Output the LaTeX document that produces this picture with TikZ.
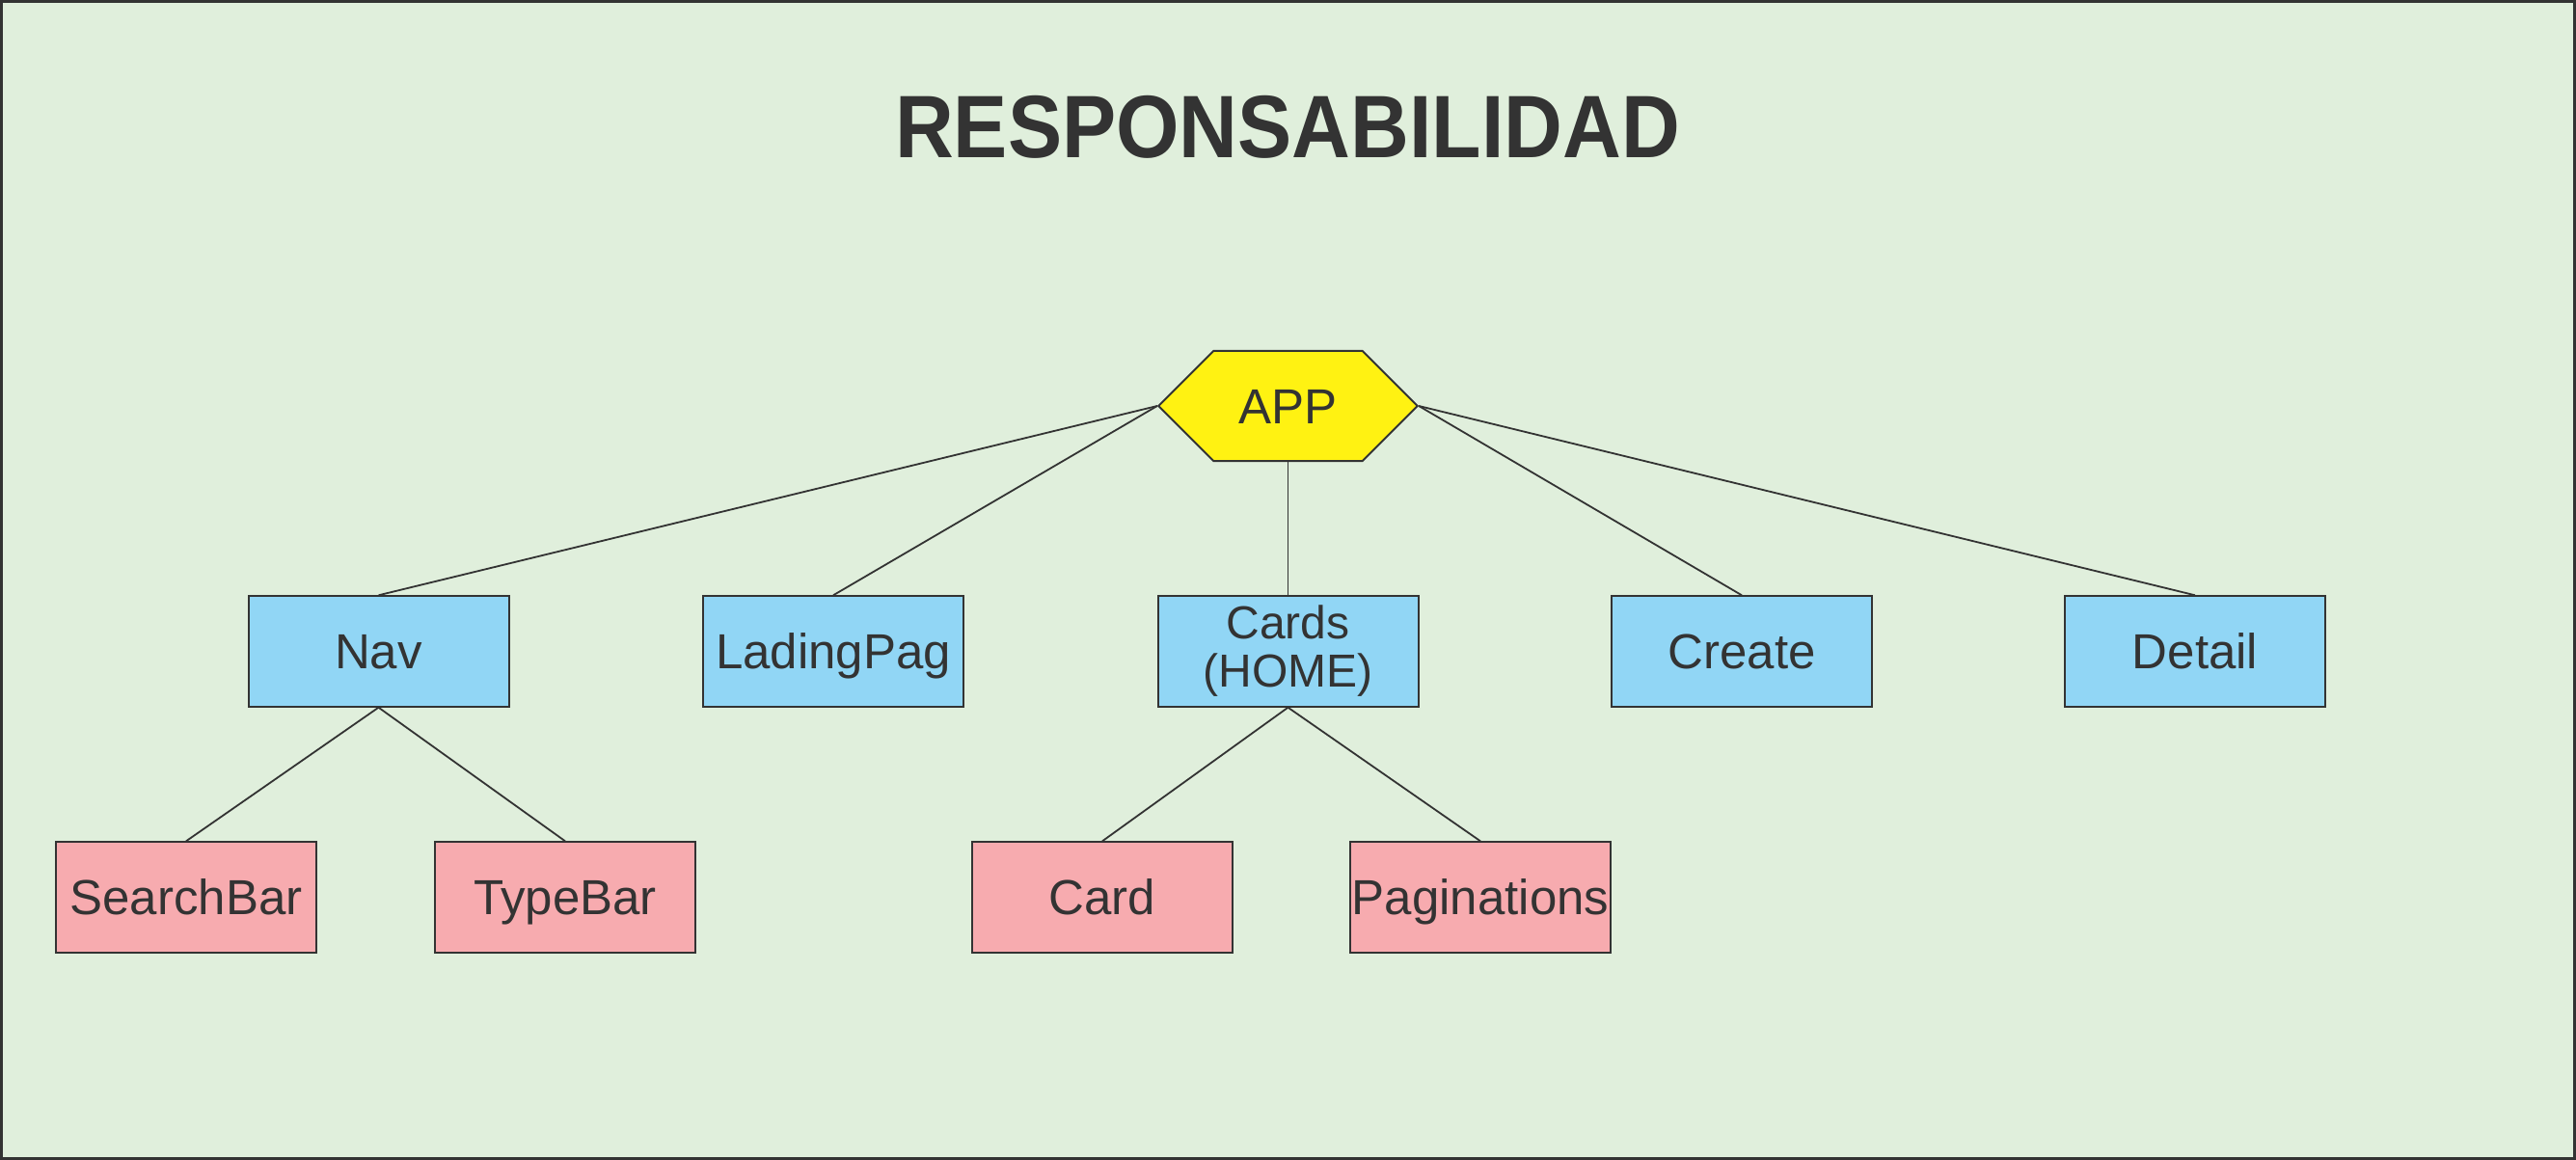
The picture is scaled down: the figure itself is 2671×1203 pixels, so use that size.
\documentclass[tikz,border=0pt]{standalone}
\usepackage{fontspec}
\setmainfont{Liberation Sans}
\newfontfamily\titlefont[FakeStretch=0.915]{Liberation Sans}
\usetikzlibrary{shapes.symbols}
\definecolor{bgc}{RGB}{224,239,220}
\definecolor{inkc}{RGB}{51,51,51}
\definecolor{bluec}{RGB}{145,214,245}
\definecolor{pinkc}{RGB}{247,171,175}
\definecolor{yelc}{RGB}{255,242,18}
\tikzset{
  box/.style={draw=inkc, line width=1pt, minimum width=135pt, minimum height=57.2pt, inner sep=0pt, text=inkc, font=\fontsize{25.5}{30}\selectfont, text height=18.3pt, text depth=0pt},
  bluebox/.style={box, fill=bluec},
  pinkbox/.style={box, fill=pinkc},
  link/.style={draw=inkc, line width=0.9pt},
}
\begin{document}
\begin{tikzpicture}[x=0.5pt,y=-0.5pt]
\useasboundingbox (0,0) rectangle (2671,1203);
\draw[fill=bgc, draw=inkc, line width=1.5pt] (1.5,1.5) rectangle (2669.5,1201.5);
\node[text=inkc, font=\titlefont\fontsize{46}{55}\selectfont\bfseries, inner sep=0pt, text height=33pt, text depth=0pt] (title) at (1335,130.5) {RESPONSABILIDAD};
\node[signal, signal to=east and west, signal pointer angle=90, draw=inkc, line width=1pt, fill=yelc, minimum width=134.2pt, minimum height=57pt, inner sep=0pt, text=inkc, font=\fontsize{25.5}{30}\selectfont, text height=18.3pt, text depth=0pt] (app) at (1335.5,421) {APP};
\node[bluebox] (nav) at (392.5,675.5) {Nav};
\node[bluebox] (lad) at (864,675.5) {LadingPag};
\node[bluebox, font=\fontsize{24}{25}\selectfont, align=center, text height=, text depth=] (cards) at (1335.5,675.5) {Cards\\(HOME)};
\node[bluebox] (create) at (1806,675.5) {Create};
\node[bluebox] (detail) at (2276,675.5) {Detail};
\node[pinkbox] (search) at (193,930.5) {SearchBar};
\node[pinkbox] (type) at (586,930.5) {TypeBar};
\node[pinkbox] (card) at (1143,930.5) {Card};
\node[pinkbox] (pag) at (1535,930.5) {Paginations};
\draw[link] (app.west) -- (nav.north);
\draw[link] (app.west) -- (lad.north);
\draw[link] (app.south) -- (cards.north);
\draw[link] (app.east) -- (create.north);
\draw[link] (app.east) -- (detail.north);
\draw[link] (nav.south) -- (search.north);
\draw[link] (nav.south) -- (type.north);
\draw[link] (cards.south) -- (card.north);
\draw[link] (cards.south) -- (pag.north);
\end{tikzpicture}
\end{document}
